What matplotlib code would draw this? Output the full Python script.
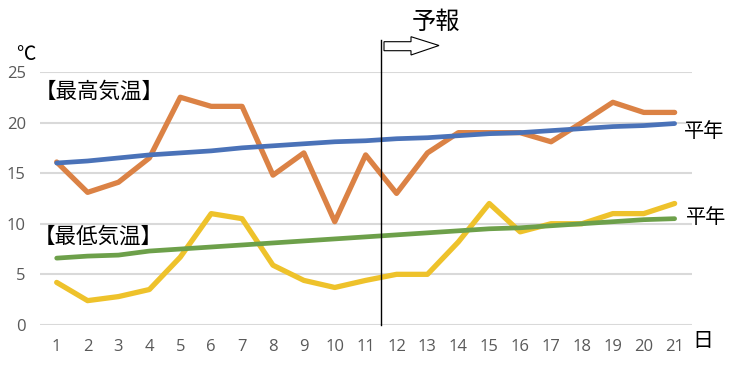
import numpy as np
import matplotlib.pyplot as plt
from matplotlib.patches import Polygon

plt.rcParams['font.family'] = ['Noto Sans CJK JP', 'DejaVu Sans']

days = list(range(1, 22))
tmax = [16.1, 13.1, 14.1, 16.5, 22.5, 21.6, 21.6, 14.8, 17.0, 10.2, 16.8,
        13.0, 17.0, 19.0, 19.0, 19.0, 18.1, 20.0, 22.0, 21.0, 21.0]
tmax_normal = [16.0, 16.2, 16.5, 16.8, 17.0, 17.2, 17.5, 17.7, 17.9, 18.1, 18.2,
               18.4, 18.5, 18.7, 18.9, 19.0, 19.2, 19.4, 19.6, 19.7, 19.9]
tmin = [4.2, 2.4, 2.8, 3.5, 6.7, 11.0, 10.5, 5.9, 4.4, 3.7, 4.4,
        5.0, 5.0, 8.2, 12.0, 9.2, 10.0, 10.0, 11.0, 11.0, 12.0]
tmin_normal = [6.6, 6.8, 6.9, 7.3, 7.5, 7.7, 7.9, 8.1, 8.3, 8.5, 8.7,
               8.9, 9.1, 9.3, 9.5, 9.6, 9.8, 10.0, 10.2, 10.4, 10.5]
yticks = [0, 5, 10, 15, 20, 25]
forecast_start = 11.5

fig = plt.figure(figsize=(7.35, 3.91), dpi=100)
ax = fig.add_axes([0.054, 0.169, 0.887, 0.647])

ax.plot(days, tmax, color='#DB8245', lw=3.8, solid_capstyle='round', zorder=3)
ax.plot(days, tmax_normal, color='#4A72B8', lw=3.4, solid_capstyle='round', zorder=3)
ax.plot(days, tmin, color='#EEC22B', lw=3.8, solid_capstyle='round', zorder=3)
ax.plot(days, tmin_normal, color='#6DA04A', lw=3.4, solid_capstyle='round', zorder=3)

ax.set_xlim(0.45, 21.55)
ax.set_ylim(0, 25)
ax.set_xticks(days)
ax.set_yticks(yticks)
ax.grid(axis='y', color='#D9D9D9', lw=1.5, zorder=0)
for s in ax.spines.values():
    s.set_visible(False)
ax.tick_params(length=0, labelsize=12, labelcolor='#595959', pad=10)
for lab in ax.get_xticklabels() + ax.get_yticklabels():
    lab.set_family(['Open Sans', 'DejaVu Sans'])

# 予報 line
ax.axvline(forecast_start, ymin=0, ymax=1.128, color='black', lw=1, clip_on=False, zorder=4)

# arrow (figure pixel coords)
W, H = 735, 391
pts = [(384, 41.7), (411, 41.7), (411, 36.7), (439, 45.5), (411, 55), (411, 50.7), (384, 50.7)]
arrow = Polygon([(x / W, 1 - y / H) for x, y in pts], closed=True, facecolor='white',
                edgecolor='black', lw=0.8, transform=fig.transFigure)
fig.patches.append(arrow)

fig.text(412 / W, 1 - 22 / H, '予報', fontsize=17.5, ha='left', va='center')
fig.text(16 / W, 1 - 54 / H, '℃', fontsize=14, ha='left', va='center')
fig.text(692 / W, 1 - 341 / H, '日', fontsize=15, ha='left', va='center')

ax.text(0.28, 23.0, '【最高気温】', fontsize=15.5, ha='left', va='center')
ax.text(0.25, 8.7, '【最低気温】', fontsize=15.5, ha='left', va='center')
ax.text(21.3, tmax_normal[-1] - 0.8, '平年', fontsize=14.5, ha='left', va='center')
ax.text(21.37, tmin_normal[-1] + 0.1, '平年', fontsize=14.5, ha='left', va='center')

fig.savefig('out.png', dpi=100)
